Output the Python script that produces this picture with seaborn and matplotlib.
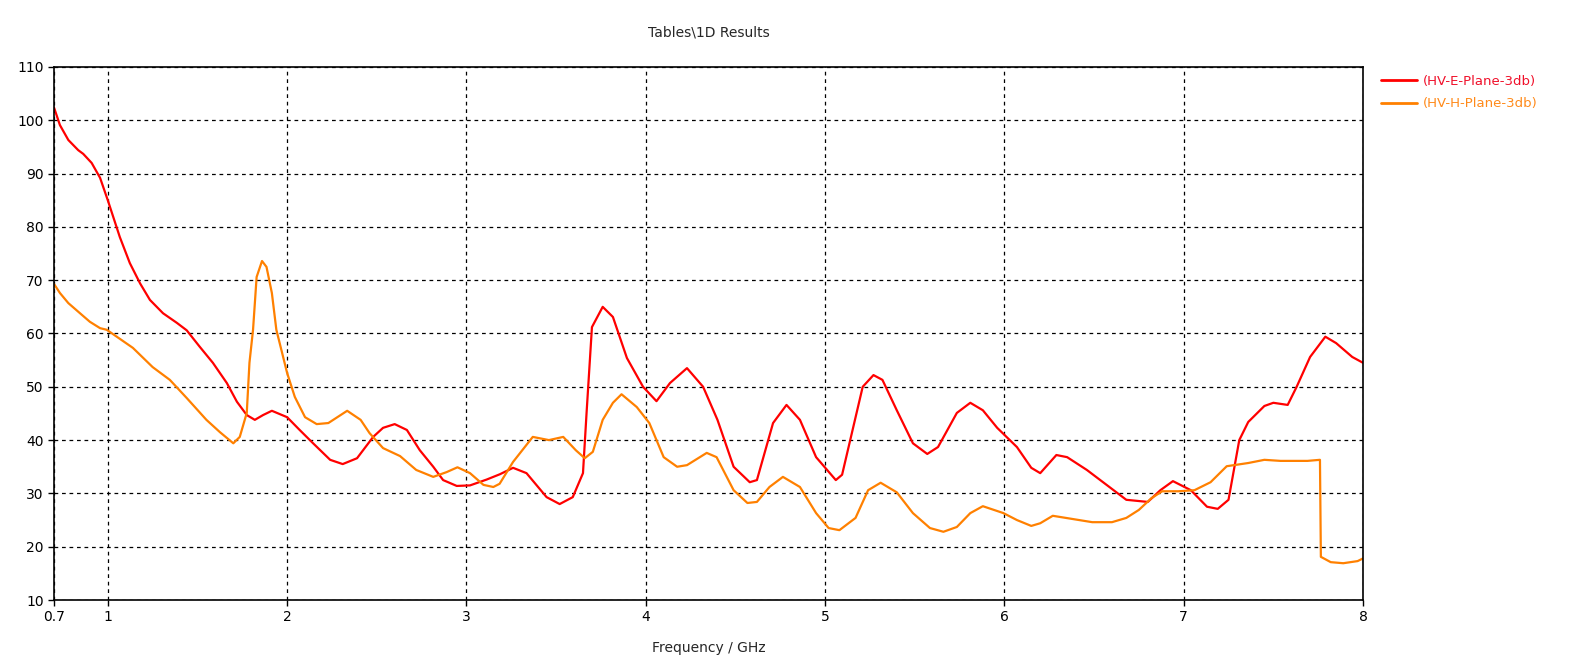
import matplotlib
matplotlib.use("Agg")
import matplotlib.pyplot as plt
import seaborn as sns
import pandas as pd

# HV-E-Plane-3db (red)
freq_e = [0.70, 0.733, 0.78, 0.835, 0.863, 0.91, 0.957, 1.00, 1.067, 1.123, 1.18, 1.235,
          1.308, 1.385, 1.44, 1.513, 1.586, 1.664, 1.72, 1.775, 1.82, 1.866, 1.915, 2.0,
          2.07, 2.145, 2.24, 2.31, 2.39, 2.48, 2.535, 2.6, 2.668, 2.74, 2.815, 2.87,
          2.946, 3.02, 3.113, 3.187, 3.26, 3.335, 3.447, 3.52, 3.593, 3.65, 3.67, 3.70,
          3.76, 3.817, 3.895, 3.985, 4.06, 4.135, 4.23, 4.32, 4.40, 4.49, 4.58, 4.62,
          4.71, 4.785, 4.86, 4.95, 5.06, 5.095, 5.21, 5.27, 5.32, 5.40, 5.49, 5.57,
          5.63, 5.735, 5.81, 5.88, 5.96, 6.07, 6.15, 6.20, 6.29, 6.35, 6.46, 6.57,
          6.68, 6.80, 6.87, 6.94, 7.04, 7.13, 7.19, 7.25, 7.31, 7.36, 7.45, 7.50,
          7.58, 7.63, 7.705, 7.79, 7.85, 7.94, 8.0]
val_e = [102.4, 99.1, 96.3, 94.4, 93.7, 92.0, 89.2, 85.0, 78.1, 73.2, 69.4, 66.3,
         63.8, 62.0, 60.6, 57.5, 54.5, 50.7, 47.2, 44.7, 43.8, 44.7, 45.5, 44.3,
         41.9, 39.4, 36.3, 35.5, 36.6, 40.6, 42.3, 43.0, 41.9, 38.1, 35.0, 32.5,
         31.4, 31.5, 32.6, 33.6, 34.8, 33.8, 29.3, 28.0, 29.3, 33.8, 45.1, 61.2,
         65.0, 63.1, 55.4, 50.0, 47.3, 50.7, 53.5, 50.0, 43.8, 35.0, 32.1, 32.5,
         43.2, 46.6, 43.8, 36.8, 32.5, 33.5, 50.0, 52.2, 51.3, 45.6, 39.4, 37.4,
         38.7, 45.1, 47.0, 45.6, 42.3, 38.7, 34.8, 33.8, 37.2, 36.8, 34.4, 31.6,
         28.8, 28.4, 30.6, 32.3, 30.6, 27.5, 27.1, 28.8, 40.0, 43.4, 46.4, 47.0,
         46.6, 50.0, 55.6, 59.4, 58.2, 55.6, 54.5]

# HV-H-Plane-3db (orange)
freq_h = [0.70, 0.733, 0.78, 0.845, 0.90, 0.957, 0.994, 1.05, 1.14, 1.25, 1.346, 1.44,
          1.55, 1.625, 1.70, 1.736, 1.775, 1.79, 1.81, 1.83, 1.86, 1.885, 1.915, 1.94,
          2.0, 2.043, 2.10, 2.165, 2.23, 2.335, 2.41, 2.46, 2.535, 2.63, 2.72, 2.815,
          2.89, 2.95, 3.02, 3.095, 3.15, 3.185, 3.26, 3.37, 3.46, 3.54, 3.61, 3.66,
          3.705, 3.76, 3.817, 3.865, 3.95, 4.02, 4.10, 4.175, 4.23, 4.34, 4.395, 4.49,
          4.567, 4.62, 4.69, 4.765, 4.86, 4.95, 5.02, 5.08, 5.17, 5.24, 5.31, 5.40,
          5.49, 5.585, 5.66, 5.735, 5.81, 5.88, 5.995, 6.07, 6.15, 6.20, 6.27, 6.38,
          6.49, 6.60, 6.68, 6.75, 6.82, 6.88, 6.97, 7.06, 7.15, 7.24, 7.36, 7.45,
          7.54, 7.69, 7.76, 7.765, 7.82, 7.89, 7.97, 8.0]
val_h = [69.3, 67.6, 65.7, 63.8, 62.2, 61.0, 60.7, 59.4, 57.3, 53.7, 51.3, 47.9,
         43.8, 41.5, 39.4, 40.6, 45.1, 54.5, 60.7, 70.6, 73.6, 72.5, 67.6, 60.7,
         52.6, 48.1, 44.3, 43.0, 43.2, 45.5, 43.8, 41.3, 38.5, 37.0, 34.4, 33.1,
         34.0, 34.9, 33.8, 31.6, 31.2, 31.8, 35.9, 40.6, 40.0, 40.6, 38.1, 36.6,
         37.8, 43.8, 47.0, 48.6, 46.2, 43.2, 36.8, 35.0, 35.3, 37.6, 36.8, 30.6,
         28.2, 28.4, 31.2, 33.1, 31.2, 26.3, 23.5, 23.1, 25.4, 30.6, 32.0, 30.2,
         26.3, 23.5, 22.8, 23.7, 26.3, 27.6, 26.3, 25.0, 23.9, 24.4, 25.8, 25.2,
         24.6, 24.6, 25.4, 26.9, 29.1, 30.4, 30.4, 30.6, 32.1, 35.1, 35.7, 36.3,
         36.1, 36.1, 36.3, 18.1, 17.1, 16.9, 17.3, 17.8]

series_names = ["(HV-E-Plane-3db)", "(HV-H-Plane-3db)"]
series_colors = ["#ff0000", "#ff8000"]
legend_text_colors = ["#f0102a", "#ff8a1a"]

x_ticks = [0.7, 1, 2, 3, 4, 5, 6, 7, 8]
x_tick_labels = ["0.7", "1", "2", "3", "4", "5", "6", "7", "8"]
y_ticks = list(range(10, 111, 10))

df = pd.concat([
    pd.DataFrame({"freq": freq_e, "value": val_e, "series": series_names[0]}),
    pd.DataFrame({"freq": freq_h, "value": val_h, "series": series_names[1]}),
], ignore_index=True)

sns.set_style("white")
plt.rcParams["font.family"] = ["DejaVu Sans"]

fig = plt.figure(figsize=(15.69, 6.62), dpi=100)
ax = fig.add_axes([54 / 1569, 1 - 600 / 662, (1363 - 54) / 1569, (600 - 67) / 662])

sns.lineplot(data=df, x="freq", y="value", hue="series", palette=series_colors,
             sort=False, estimator=None, linewidth=1.6, ax=ax)

ax.set_xlim(0.7, 8)
ax.set_ylim(10, 110)
ax.set_xticks(x_ticks)
ax.set_xticklabels(x_tick_labels)
ax.set_yticks(y_ticks)
ax.tick_params(axis="both", direction="out", length=4, width=1, labelsize=10,
               colors="black", bottom=True, left=True)
ax.grid(True, color="black", linestyle=(0, (3, 3)), linewidth=0.9)
for s in ax.spines.values():
    s.set_color("black")
    s.set_linewidth(1.2)

ax.set_xlabel("Frequency / GHz", fontsize=10, labelpad=12)
ax.set_ylabel("")
fig.text(709 / 1569, 1 - 33 / 662, "Tables\\1D Results", ha="center", va="center",
         fontsize=10)

leg = ax.legend(loc="upper left", bbox_to_anchor=(1.0137, 0.985), frameon=False,
                borderaxespad=0, borderpad=0, fontsize=9.5, handlelength=2.75,
                handletextpad=0.45, labelspacing=0.7)
for txt, col in zip(leg.get_texts(), legend_text_colors):
    txt.set_color(col)
for line in leg.get_lines():
    line.set_linewidth(2)

fig.savefig("out.png", dpi=100)
